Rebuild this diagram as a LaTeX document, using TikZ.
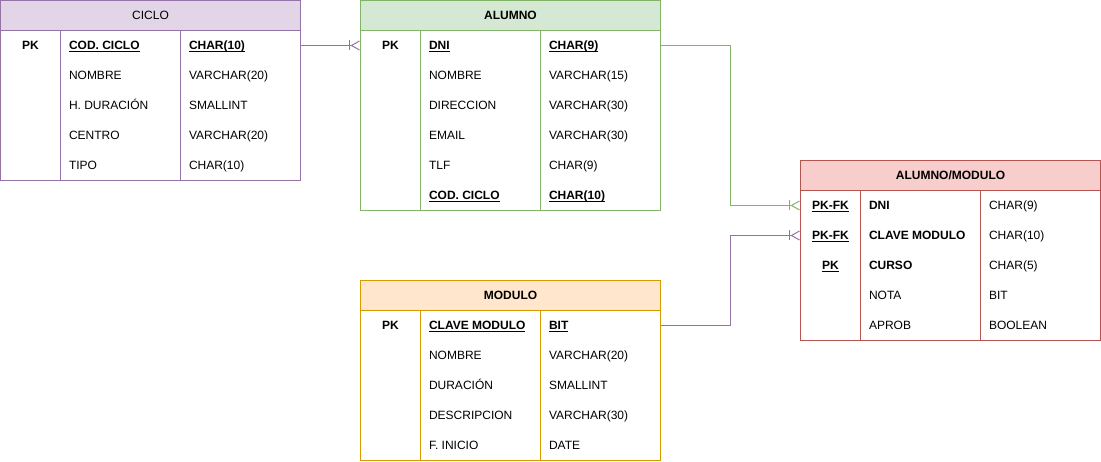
\documentclass[tikz,border=0pt]{standalone}
\usepackage{fontspec}
\setmainfont{Liberation Sans}
\usetikzlibrary{arrows.meta}

\definecolor{cicloline}{HTML}{9673A6}
\definecolor{cicloback}{HTML}{E1D5E7}
\definecolor{alumnoline}{HTML}{82B366}
\definecolor{alumnoback}{HTML}{D5E8D4}
\definecolor{almodline}{HTML}{B85450}
\definecolor{almodback}{HTML}{F8CECC}
\definecolor{moduloline}{HTML}{D79B00}
\definecolor{moduloback}{HTML}{FFE6CC}

\newcommand{\tabfont}{\fontsize{12}{14}\selectfont}
\newcommand{\pkey}[1]{\textbf{\underline{\smash{#1}}}}

\tikzset{
	hdr/.style={draw, rectangle, minimum width=300pt, minimum height=30pt, inner sep=0pt, font=\tabfont\bfseries},
	tbl/.style={draw, rectangle, fill=white, minimum width=300pt, inner sep=0pt},
	cell/.style={inner sep=0pt, text height=8.6pt, text depth=0pt, font=\tabfont},
	fld/.style={cell, anchor=west},
	crow/.style={-{Bar[width=10pt] Straight Barb[reversed, length=8pt, width=9pt]}},
}

\begin{document}
\begin{tikzpicture}[x=1pt, y=-1pt, line width=1pt]
	\useasboundingbox (-0.5,-0.5) rectangle (1100.5,461.5);

	% CICLO
	\node[hdr, draw=cicloline, fill=cicloback, font=\tabfont] (cicloH) at (150,15) {CICLO};
	\node[tbl, draw=cicloline, minimum height=150pt] (ciclo) at (150,105) {};
	\draw[cicloline] ([xshift=60pt]ciclo.north west) -- ([xshift=60pt]ciclo.south west);
	\draw[cicloline] ([xshift=180pt]ciclo.north west) -- ([xshift=180pt]ciclo.south west);
	\foreach \k/\f/\t [count=\i] in {{\textbf{PK}}/{\pkey{COD. CICLO}}/{\pkey{CHAR(10)}},
			/NOMBRE/VARCHAR(20), /{H. DURACIÓN}/SMALLINT, /CENTRO/VARCHAR(20), /TIPO/CHAR(10)} {
		\node[cell] (ciclo-k\i) at (30,15+30*\i) {\k};
		\node[fld] (ciclo-f\i) at (68,15+30*\i) {\f};
		\node[fld] (ciclo-t\i) at (188,15+30*\i) {\t};
	}

	% ALUMNO
	\node[hdr, draw=alumnoline, fill=alumnoback] (alumnoH) at (510,15) {ALUMNO};
	\node[tbl, draw=alumnoline, minimum height=180pt] (alumno) at (510,120) {};
	\draw[alumnoline] ([xshift=60pt]alumno.north west) -- ([xshift=60pt]alumno.south west);
	\draw[alumnoline] ([xshift=180pt]alumno.north west) -- ([xshift=180pt]alumno.south west);
	\foreach \k/\f/\t [count=\i] in {{\textbf{PK}}/{\pkey{DNI}}/{\pkey{CHAR(9)}},
			/NOMBRE/VARCHAR(15), /DIRECCION/VARCHAR(30), /EMAIL/VARCHAR(30), /TLF/CHAR(9),
			/{\pkey{COD. CICLO}}/{\pkey{CHAR(10)}}} {
		\node[cell] (alumno-k\i) at (390,15+30*\i) {\k};
		\node[fld] (alumno-f\i) at (428,15+30*\i) {\f};
		\node[fld] (alumno-t\i) at (548,15+30*\i) {\t};
	}

	% ALUMNO/MODULO
	\node[hdr, draw=almodline, fill=almodback] (almodH) at (950,175) {ALUMNO/MODULO};
	\node[tbl, draw=almodline, minimum height=150pt] (almod) at (950,265) {};
	\draw[almodline] ([xshift=60pt]almod.north west) -- ([xshift=60pt]almod.south west);
	\draw[almodline] ([xshift=180pt]almod.north west) -- ([xshift=180pt]almod.south west);
	\foreach \k/\f/\t [count=\i] in {{\pkey{PK-FK}}/{\textbf{DNI}}/CHAR(9),
			{\pkey{PK-FK}}/{\textbf{CLAVE MODULO}}/CHAR(10), {\pkey{PK}}/{\textbf{CURSO}}/CHAR(5),
			/NOTA/BIT, /APROB/BOOLEAN} {
		\node[cell] (almod-k\i) at (830,175+30*\i) {\k};
		\node[fld] (almod-f\i) at (868,175+30*\i) {\f};
		\node[fld] (almod-t\i) at (988,175+30*\i) {\t};
	}

	% MODULO
	\node[hdr, draw=moduloline, fill=moduloback] (moduloH) at (510,295) {MODULO};
	\node[tbl, draw=moduloline, minimum height=150pt] (modulo) at (510,385) {};
	\draw[moduloline] ([xshift=60pt]modulo.north west) -- ([xshift=60pt]modulo.south west);
	\draw[moduloline] ([xshift=180pt]modulo.north west) -- ([xshift=180pt]modulo.south west);
	\foreach \k/\f/\t [count=\i] in {{\textbf{PK}}/{\pkey{CLAVE MODULO}}/{\pkey{BIT}},
			/NOMBRE/VARCHAR(20), /DURACIÓN/SMALLINT, /DESCRIPCION/VARCHAR(30), /{F. INICIO}/DATE} {
		\node[cell] (modulo-k\i) at (390,295+30*\i) {\k};
		\node[fld] (modulo-f\i) at (428,295+30*\i) {\f};
		\node[fld] (modulo-t\i) at (548,295+30*\i) {\t};
	}

	% relaciones
	\coordinate (bend) at (730,0);
	\draw[crow, cicloline] (ciclo.east |- ciclo-f1) -- (alumno.west |- ciclo-f1);
	\draw[crow, alumnoline] (alumno.east |- alumno-f1) -| (bend |- almod-f1) -- (almod.west |- almod-f1);
	\draw[crow, cicloline] (modulo.east |- modulo-f1) -| (bend |- almod-f2) -- (almod.west |- almod-f2);
\end{tikzpicture}
\end{document}
